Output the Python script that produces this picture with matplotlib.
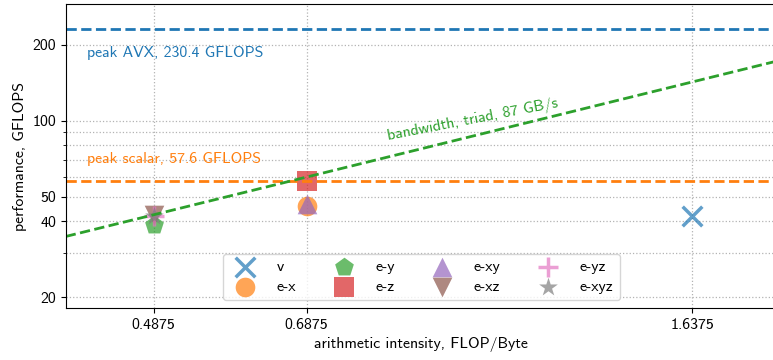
import matplotlib
matplotlib.use("Agg")
import matplotlib.pyplot as plt
from matplotlib.ticker import FixedLocator, NullLocator, NullFormatter

plt.rcParams['font.family'] = ['cmss10', 'DejaVu Sans']
plt.rcParams['font.size'] = 11.4
plt.rcParams['axes.formatter.use_mathtext'] = False

# roofline parameters
peak_avx = 230.4
peak_scalar = 57.6
bandwidth = 87.0

# measured kernels: (arithmetic intensity, GFLOPS)
labels = ["v", "e-x", "e-y", "e-z", "e-xy", "e-xz", "e-yz", "e-xyz"]
intensity = [1.6375, 0.6875, 0.4875, 0.6875, 0.6875, 0.4875, 0.4875, 0.4875]
gflops = [42.0, 46.0, 38.5, 57.5, 47.0, 42.5, 42.0, 42.0]
markers = ["x", "o", "p", "s", "^", "v", "+", "*"]
colors = ["tab:blue", "tab:orange", "tab:green", "tab:red",
          "tab:purple", "tab:brown", "tab:pink", "tab:gray"]

xticks = [0.4875, 0.6875, 1.6375]
yticks = [20, 40, 50, 100, 200]
yminor = [30, 60, 70, 80, 90]

fig = plt.figure(figsize=(7.73, 3.6), dpi=100)
ax = fig.add_axes([0.085, 0.144, 0.92, 0.845])
ax.set_xscale("log")
ax.set_yscale("log")
ax.set_xlim(0.4, 1.98)
ax.set_ylim(18.1, 290)

# roofs
ax.axhline(peak_avx, color="tab:blue", ls="--", lw=2)
ax.axhline(peak_scalar, color="tab:orange", ls="--", lw=2)
bx = [0.4, 1.98]
ax.plot(bx, [bandwidth * v for v in bx], color="tab:green", ls="--", lw=2)

ax.text(0.42, 186, "peak AVX, 230.4 GFLOPS", color="tab:blue", va="center")
ax.text(0.42, 70.5, "peak scalar, 57.6 GFLOPS", color="tab:orange", va="center")
ax.text(1.0, 101, "bandwidth, triad, 87 GB/s", color="tab:green",
        rotation=11, ha="center", va="center", rotation_mode="anchor")

# measured points (drawn under the roof lines)
for xi, yi, lab, m, c in zip(intensity, gflops, labels, markers, colors):
    lw = 2.5 if m in ("x", "+") else 0
    ax.scatter([xi], [yi], marker=m, color=c, s=200, linewidths=lw,
               alpha=0.7, label=lab)

ax.xaxis.set_major_locator(FixedLocator(xticks))
ax.xaxis.set_minor_locator(NullLocator())
ax.set_xticklabels([str(v) for v in xticks])
ax.yaxis.set_major_locator(FixedLocator(yticks))
ax.yaxis.set_minor_locator(FixedLocator(yminor))
ax.yaxis.set_minor_formatter(NullFormatter())
ax.set_yticklabels([str(v) for v in yticks])

ax.grid(True, which="both", ls=":", color="0.7", lw=0.9)
ax.set_axisbelow(True)

ax.set_xlabel("arithmetic intensity, FLOP/Byte")
ax.set_ylabel("performance, GFLOPS")

ax.legend(ncol=4, loc="lower center", handletextpad=1.0, columnspacing=2.0,
          borderpad=0.4, labelspacing=0.35)

fig.savefig("out.png", dpi=100)
